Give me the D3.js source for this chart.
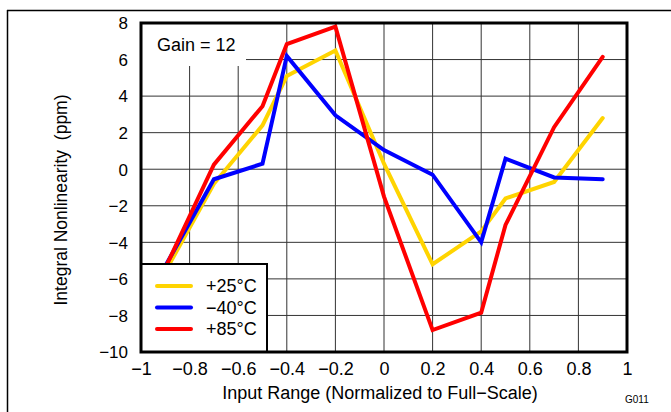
<!DOCTYPE html>
<html>
<head>
<meta charset="utf-8">
<script src="https://cdn.jsdelivr.net/npm/d3@7"></script>
<style>
  html, body { margin: 0; padding: 0; background: #fff; }
  svg { display: block; font-family: "Liberation Sans", Arial, sans-serif; }
</style>
</head>
<body>
<svg id="chart" width="671" height="412"></svg>
<script>
// ---- data ----
const xValues   = [-0.9, -0.7, -0.5, -0.4, -0.2, 0, 0.2, 0.4, 0.5, 0.7, 0.9];
const inl25     = [-5.6, -0.8, 2.4, 5.1, 6.5, 0.3, -5.2, -3.4, -1.6, -0.7, 2.8];
const inlMinus40 = [-5.3, -0.55, 0.3, 6.2, 2.95, 1.05, -0.3, -4.0, 0.58, -0.45, -0.55];
const inl85     = [-5.4, 0.25, 3.45, 6.85, 7.8, -1.5, -8.8, -7.85, -3.05, 2.3, 6.15];
const seriesNames = ["+25\u00B0C", "\u221240\u00B0C", "+85\u00B0C"];
const seriesColors = ["#FFD400", "#0000FF", "#FF0000"];
const xTicks = [-1, -0.8, -0.6, -0.4, -0.2, 0, 0.2, 0.4, 0.6, 0.8, 1];
const yTicks = [-10, -8, -6, -4, -2, 0, 2, 4, 6, 8];
const xTitle = "Input Range (Normalized to Full\u2212Scale)";
const yTitle = "Integral Nonlinearity  (ppm)";
const gainText = "Gain = 12";
const figId = "G011";

const svg = d3.select("#chart");
const L = 141, R = 627, T = 23, B = 352;
const x = d3.scaleLinear().domain([-1, 1]).range([L, R]);
const y = d3.scaleLinear().domain([-10, 8]).range([B, T]);
const fmt = v => d3.format("")(Math.round(v * 10) / 10);

// outer frame
svg.append("line").attr("x1", 7).attr("x2", 671).attr("y1", 10.5).attr("y2", 10.5)
  .attr("stroke", "#000").attr("stroke-width", 1.5);
svg.append("line").attr("x1", 7.5).attr("x2", 7.5).attr("y1", 10).attr("y2", 412)
  .attr("stroke", "#000").attr("stroke-width", 1.5);

// grid
const grid = svg.append("g");
grid.selectAll(".vx").data(xTicks).join("line")
  .attr("x1", d => x(d)).attr("x2", d => x(d)).attr("y1", T).attr("y2", B)
  .attr("stroke", "#333").attr("stroke-width", 1);
grid.selectAll(".hy").data(yTicks).join("line")
  .attr("x1", L).attr("x2", R).attr("y1", d => y(d)).attr("y2", d => y(d))
  .attr("stroke", "#333").attr("stroke-width", 1);

// gain label box
svg.append("rect").attr("x", L).attr("y", T).attr("width", 105).attr("height", 43).attr("fill", "#fff");
svg.append("text").attr("x", 157).attr("y", 51).attr("font-size", 18).text(gainText);

// axes tick labels
const xAxis = d3.axisBottom(x).tickValues(xTicks).tickSize(0).tickPadding(0).tickFormat(fmt);
const gx = svg.append("g").attr("transform", `translate(0,${B})`).call(xAxis);
gx.select(".domain").remove();
gx.selectAll("text").attr("font-size", 18).attr("fill", "#000")
  .attr("font-family", "Liberation Sans, Arial, sans-serif").attr("y", 23).attr("dy", 0);

const yAxis = d3.axisLeft(y).tickValues(yTicks).tickSize(0).tickPadding(0).tickFormat(fmt);
const gy = svg.append("g").attr("transform", `translate(${L},0)`).call(yAxis);
gy.select(".domain").remove();
gy.selectAll("text").attr("font-size", 17).attr("fill", "#000")
  .attr("font-family", "Liberation Sans, Arial, sans-serif").attr("x", -13).attr("dy", "0.34em");

// series
const allSeries = [inl25, inlMinus40, inl85];
const lineGen = d3.line().x(d => x(d[0])).y(d => y(d[1]));
allSeries.forEach((vals, i) => {
  svg.append("path").datum(xValues.map((xv, k) => [xv, vals[k]]))
    .attr("d", lineGen).attr("fill", "none").attr("stroke", seriesColors[i])
    .attr("stroke-width", 4).attr("stroke-linejoin", "miter").attr("stroke-linecap", "round");
});

// legend
const lg = svg.append("g");
lg.append("rect").attr("x", L).attr("y", 264).attr("width", 126).attr("height", B - 264)
  .attr("fill", "#fff").attr("stroke", "#000").attr("stroke-width", 2);
seriesNames.forEach((name, i) => {
  const cy = 286 + i * 21.5;
  lg.append("line").attr("x1", 157).attr("x2", 191).attr("y1", cy).attr("y2", cy)
    .attr("stroke", seriesColors[i]).attr("stroke-width", 4).attr("stroke-linecap", "round");
  lg.append("text").attr("x", 206).attr("y", cy).attr("dy", "0.36em").attr("font-size", 18).text(name);
});

// plot frame
svg.append("rect").attr("x", L).attr("y", T).attr("width", R - L).attr("height", B - T)
  .attr("fill", "none").attr("stroke", "#000").attr("stroke-width", 3);

// axis titles
svg.append("text").attr("x", 380).attr("y", 399).attr("text-anchor", "middle")
  .attr("font-size", 18).text(xTitle);
svg.append("text").attr("transform", "translate(67,200) rotate(-90)").attr("text-anchor", "middle")
  .attr("font-size", 17.5).style("white-space", "pre").text(yTitle);
svg.append("text").attr("x", 625).attr("y", 403).attr("font-size", 10).text(figId);
</script>
</body>
</html>
